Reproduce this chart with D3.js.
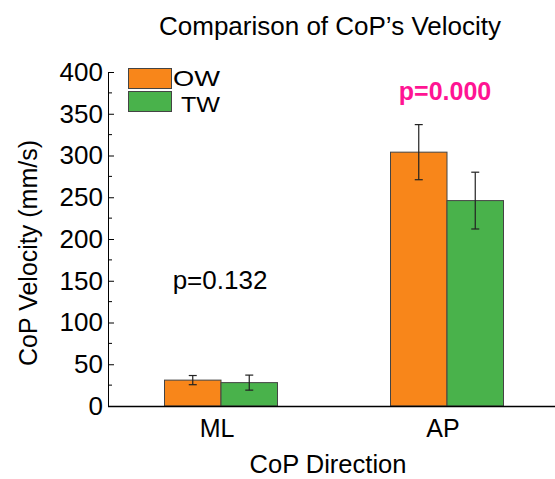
<!DOCTYPE html>
<html><head><meta charset="utf-8">
<script src="https://cdn.jsdelivr.net/npm/d3@7"></script>
<style>body{margin:0;background:#fff}svg{display:block}text{font-family:"Liberation Sans",Arial,sans-serif}</style>
</head><body>
<svg id="c" width="555" height="479"></svg>
<script>
const categories = ["ML", "AP"];
const seriesNames = ["OW", "TW"];
const owMeans = [31, 304];
const owErr = [5.5, 33];
const twMeans = [28, 246];
const twErr = [9, 34];
const pLabels = ["p=0.132", "p=0.000"];
const yTicks = [0, 50, 100, 150, 200, 250, 300, 350, 400];
const colors = ["#f8861a", "#49b24b"];

const svg = d3.select("#c");
const x0 = 108, yBase = 406, yTop = 72;
const y = d3.scaleLinear().domain([0, 400]).range([yBase, yTop]);
const x = d3.scaleBand().domain(categories).range([x0, 560]).paddingInner(0.5).paddingOuter(0.25);
const xs = d3.scaleBand().domain(seriesNames).range([0, x.bandwidth()]);

// Title
svg.append("text").attr("x", 330).attr("y", 35).attr("text-anchor", "middle")
  .attr("font-size", 26).text("Comparison of CoP\u2019s Velocity");

// Y axis
const yAxis = d3.axisLeft(y).tickValues(yTicks).tickSize(-6).tickPadding(5).tickSizeOuter(0);
const ya = svg.append("g").attr("transform", `translate(${x0},0)`).call(yAxis);
ya.select(".domain").attr("stroke", "#000");
ya.selectAll(".tick text").attr("font-size", 26).attr("fill", "#000").attr("font-family", "Liberation Sans, Arial, sans-serif");
ya.selectAll(".tick line").attr("stroke", "#000");
const minor = d3.range(25, 400, 50);
svg.append("g").selectAll("line").data(minor).join("line")
  .attr("x1", x0).attr("x2", x0 + 4).attr("y1", d => y(d)).attr("y2", d => y(d))
  .attr("stroke", "#000");

// Y label
svg.append("text").attr("transform", `translate(37,253) rotate(-90)`)
  .attr("text-anchor", "middle").attr("font-size", 25).text("CoP Velocity (mm/s)");

// Bars
const data = [];
categories.forEach((c, i) => {
  data.push({c, s: "OW", v: owMeans[i], e: owErr[i], col: colors[0]});
  data.push({c, s: "TW", v: twMeans[i], e: twErr[i], col: colors[1]});
});
svg.append("g").selectAll("rect").data(data).join("rect")
  .attr("x", d => x(d.c) + xs(d.s)).attr("width", xs.bandwidth())
  .attr("y", d => y(d.v)).attr("height", d => y(0) - y(d.v))
  .attr("fill", d => d.col).attr("stroke", "#444").attr("stroke-width", 1);

// Error bars
const eg = svg.append("g").attr("stroke", "#222").attr("stroke-width", 1.2);
data.forEach(d => {
  const cx = x(d.c) + xs(d.s) + xs.bandwidth() / 2;
  eg.append("line").attr("x1", cx).attr("x2", cx).attr("y1", y(d.v + d.e)).attr("y2", y(d.v - d.e));
  eg.append("line").attr("x1", cx - 4).attr("x2", cx + 4).attr("y1", y(d.v + d.e)).attr("y2", y(d.v + d.e));
  eg.append("line").attr("x1", cx - 4).attr("x2", cx + 4).attr("y1", y(d.v - d.e)).attr("y2", y(d.v - d.e));
});

// X axis
svg.append("line").attr("x1", x0).attr("x2", 555).attr("y1", yBase + 0.5).attr("y2", yBase + 0.5)
  .attr("stroke", "#000").attr("stroke-width", 1.3);
svg.append("g").selectAll("text").data(categories).join("text")
  .attr("x", d => x(d) + x.bandwidth() / 2 - 4).attr("y", 437).attr("text-anchor", "middle")
  .attr("font-size", 25).text(d => d);
svg.append("text").attr("x", 328).attr("y", 473).attr("text-anchor", "middle")
  .attr("font-size", 25.5).text("CoP Direction");

// p labels
svg.append("text").attr("x", 220).attr("y", 289).attr("text-anchor", "middle")
  .attr("font-size", 26).text(pLabels[0]);
svg.append("text").attr("x", 445).attr("y", 100).attr("text-anchor", "middle")
  .attr("font-size", 25).attr("font-weight", "bold").attr("fill", "#ff1493").text(pLabels[1]);

// Legend
const lg = svg.append("g");
seriesNames.forEach((s, i) => {
  lg.append("rect").attr("x", 128.5).attr("y", 68.5 + i * 23).attr("width", 43).attr("height", 20)
    .attr("fill", colors[i]).attr("stroke", "#444");
  lg.append("text").attr("x", i === 0 ? 173 : 181).attr("y", i === 0 ? 86 : 111.5)
    .attr("font-size", 22.5).attr("textLength", i === 0 ? 47 : 39)
    .attr("lengthAdjust", "spacingAndGlyphs").text(s);
});
</script>
</body></html>
